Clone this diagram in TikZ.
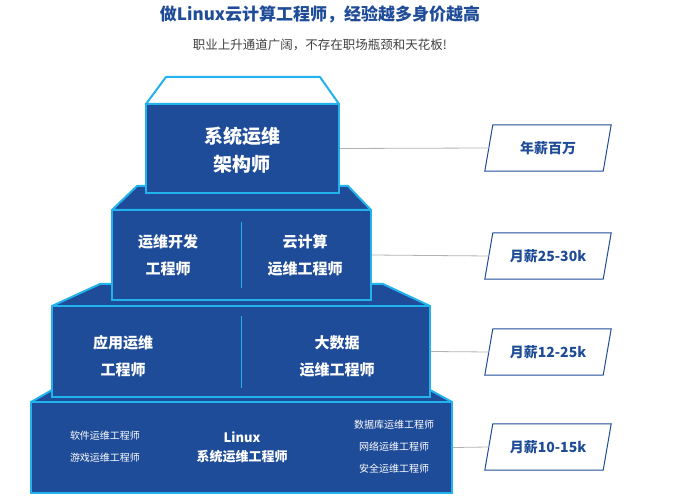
\documentclass[tikz,border=0pt]{standalone}
\usepackage{fontspec}
\setmainfont{Noto Sans CJK SC}
\usetikzlibrary{calc}
\definecolor{tierblue}{HTML}{1F4C98}
\definecolor{edgecyan}{HTML}{22B2EE}
\definecolor{paydark}{HTML}{1F4C98}
\begin{document}
\begin{tikzpicture}[
  x=1pt,y=-1pt,
  every node/.style={align=center,inner sep=0pt},
  tier/.style={draw=edgecyan,line width=2pt,fill=tierblue},
  roof/.style={draw=edgecyan,line width=2pt,fill=tierblue,line join=round},
  big/.style={text=white,font=\bfseries\fontsize{19}{28}\selectfont},
  mid/.style={text=white,font=\bfseries\fontsize{15}{27}\selectfont},
  small/.style={text=white,font=\fontsize{10}{22}\selectfont},
  pay/.style={text=paydark,font=\bfseries\fontsize{14}{16}\selectfont,minimum width=118pt,minimum height=46pt},
  link/.style={draw=gray!60,line width=.8pt}]

  \useasboundingbox (0,0) rectangle (681,500);

  % heading
  \node[text=paydark,font=\bfseries\fontsize{17}{20}\selectfont] (title) at (320,14) {做Linux云计算工程师，经验越多身价越高};
  \node[text=black!75,font=\fontsize{12.5}{15}\selectfont] (subtitle) at (320,45) {职业上升通道广阔，不存在职场瓶颈和天花板!};

  % roofs
  \draw[roof] (52,390) -- (430,390) -- (452,402) -- (31,402) -- cycle;
  \draw[roof] (100,284) -- (383,284) -- (430,306) -- (52,306) -- cycle;
  \draw[roof] (137,186) -- (348,186) -- (371,210) -- (112,210) -- cycle;
  \draw[roof,fill=white] (166,77) -- (320,77) -- (339,104) -- (146,104) -- cycle;

  % tier boxes
  \node[tier,minimum width=421pt,minimum height=91pt] (base) at (241.5,447.5) {};
  \node[tier,minimum width=378pt,minimum height=91pt] (third) at (241,351.5) {};
  \node[tier,minimum width=259pt,minimum height=90pt] (second) at (241.5,255) {};
  \node[tier,minimum width=193pt,minimum height=89pt] (top) at (242.5,148.5) {};
  \draw[edgecyan,line width=1pt] (241,222) -- (241,288);
  \draw[edgecyan,line width=1pt] (241,316) -- (241,388);

  % texts
  \node[big] (arch) at (242,150) {系统运维\\架构师};
  \node[mid] (devops) at (168,255) {运维开发\\工程师};
  \node[mid] (cloud) at (305,255) {云计算\\运维工程师};
  \node[mid] (app) at (123,356) {应用运维\\工程师};
  \node[mid] (data) at (337,356) {大数据\\运维工程师};
  \node[mid,font=\bfseries\fontsize{13}{19}\selectfont] (linux) at (242,447) {Linux\\系统运维工程师};
  \node[small] (soft) at (105,447) {软件运维工程师\\游戏运维工程师};
  \node[small] (dbops) at (394,447) {数据库运维工程师\\网络运维工程师\\安全运维工程师};

  % salaries
  \node[pay] (pay1) at (548,148) {年薪百万};
  \node[pay] (pay2) at (548,256) {月薪25-30k};
  \node[pay] (pay3) at (548,352) {月薪12-25k};
  \node[pay] (pay4) at (548,447) {月薪10-15k};
  \foreach \p in {pay1,pay2,pay3,pay4}
    \draw[paydark,line width=1pt] ($(\p.north west)+(4,0)$) -- ($(\p.north east)+(4,0)$)
      -- ($(\p.south east)+(-4,0)$) -- ($(\p.south west)+(-4,0)$) -- cycle;

  % connectors
  \draw[link] (top.east) -- (pay1.west);
  \draw[link] (second.east) -- (pay2.west);
  \draw[link] (third.east) -- (pay3.west);
  \draw[link] (base.east) -- (pay4.west);
\end{tikzpicture}
\end{document}
